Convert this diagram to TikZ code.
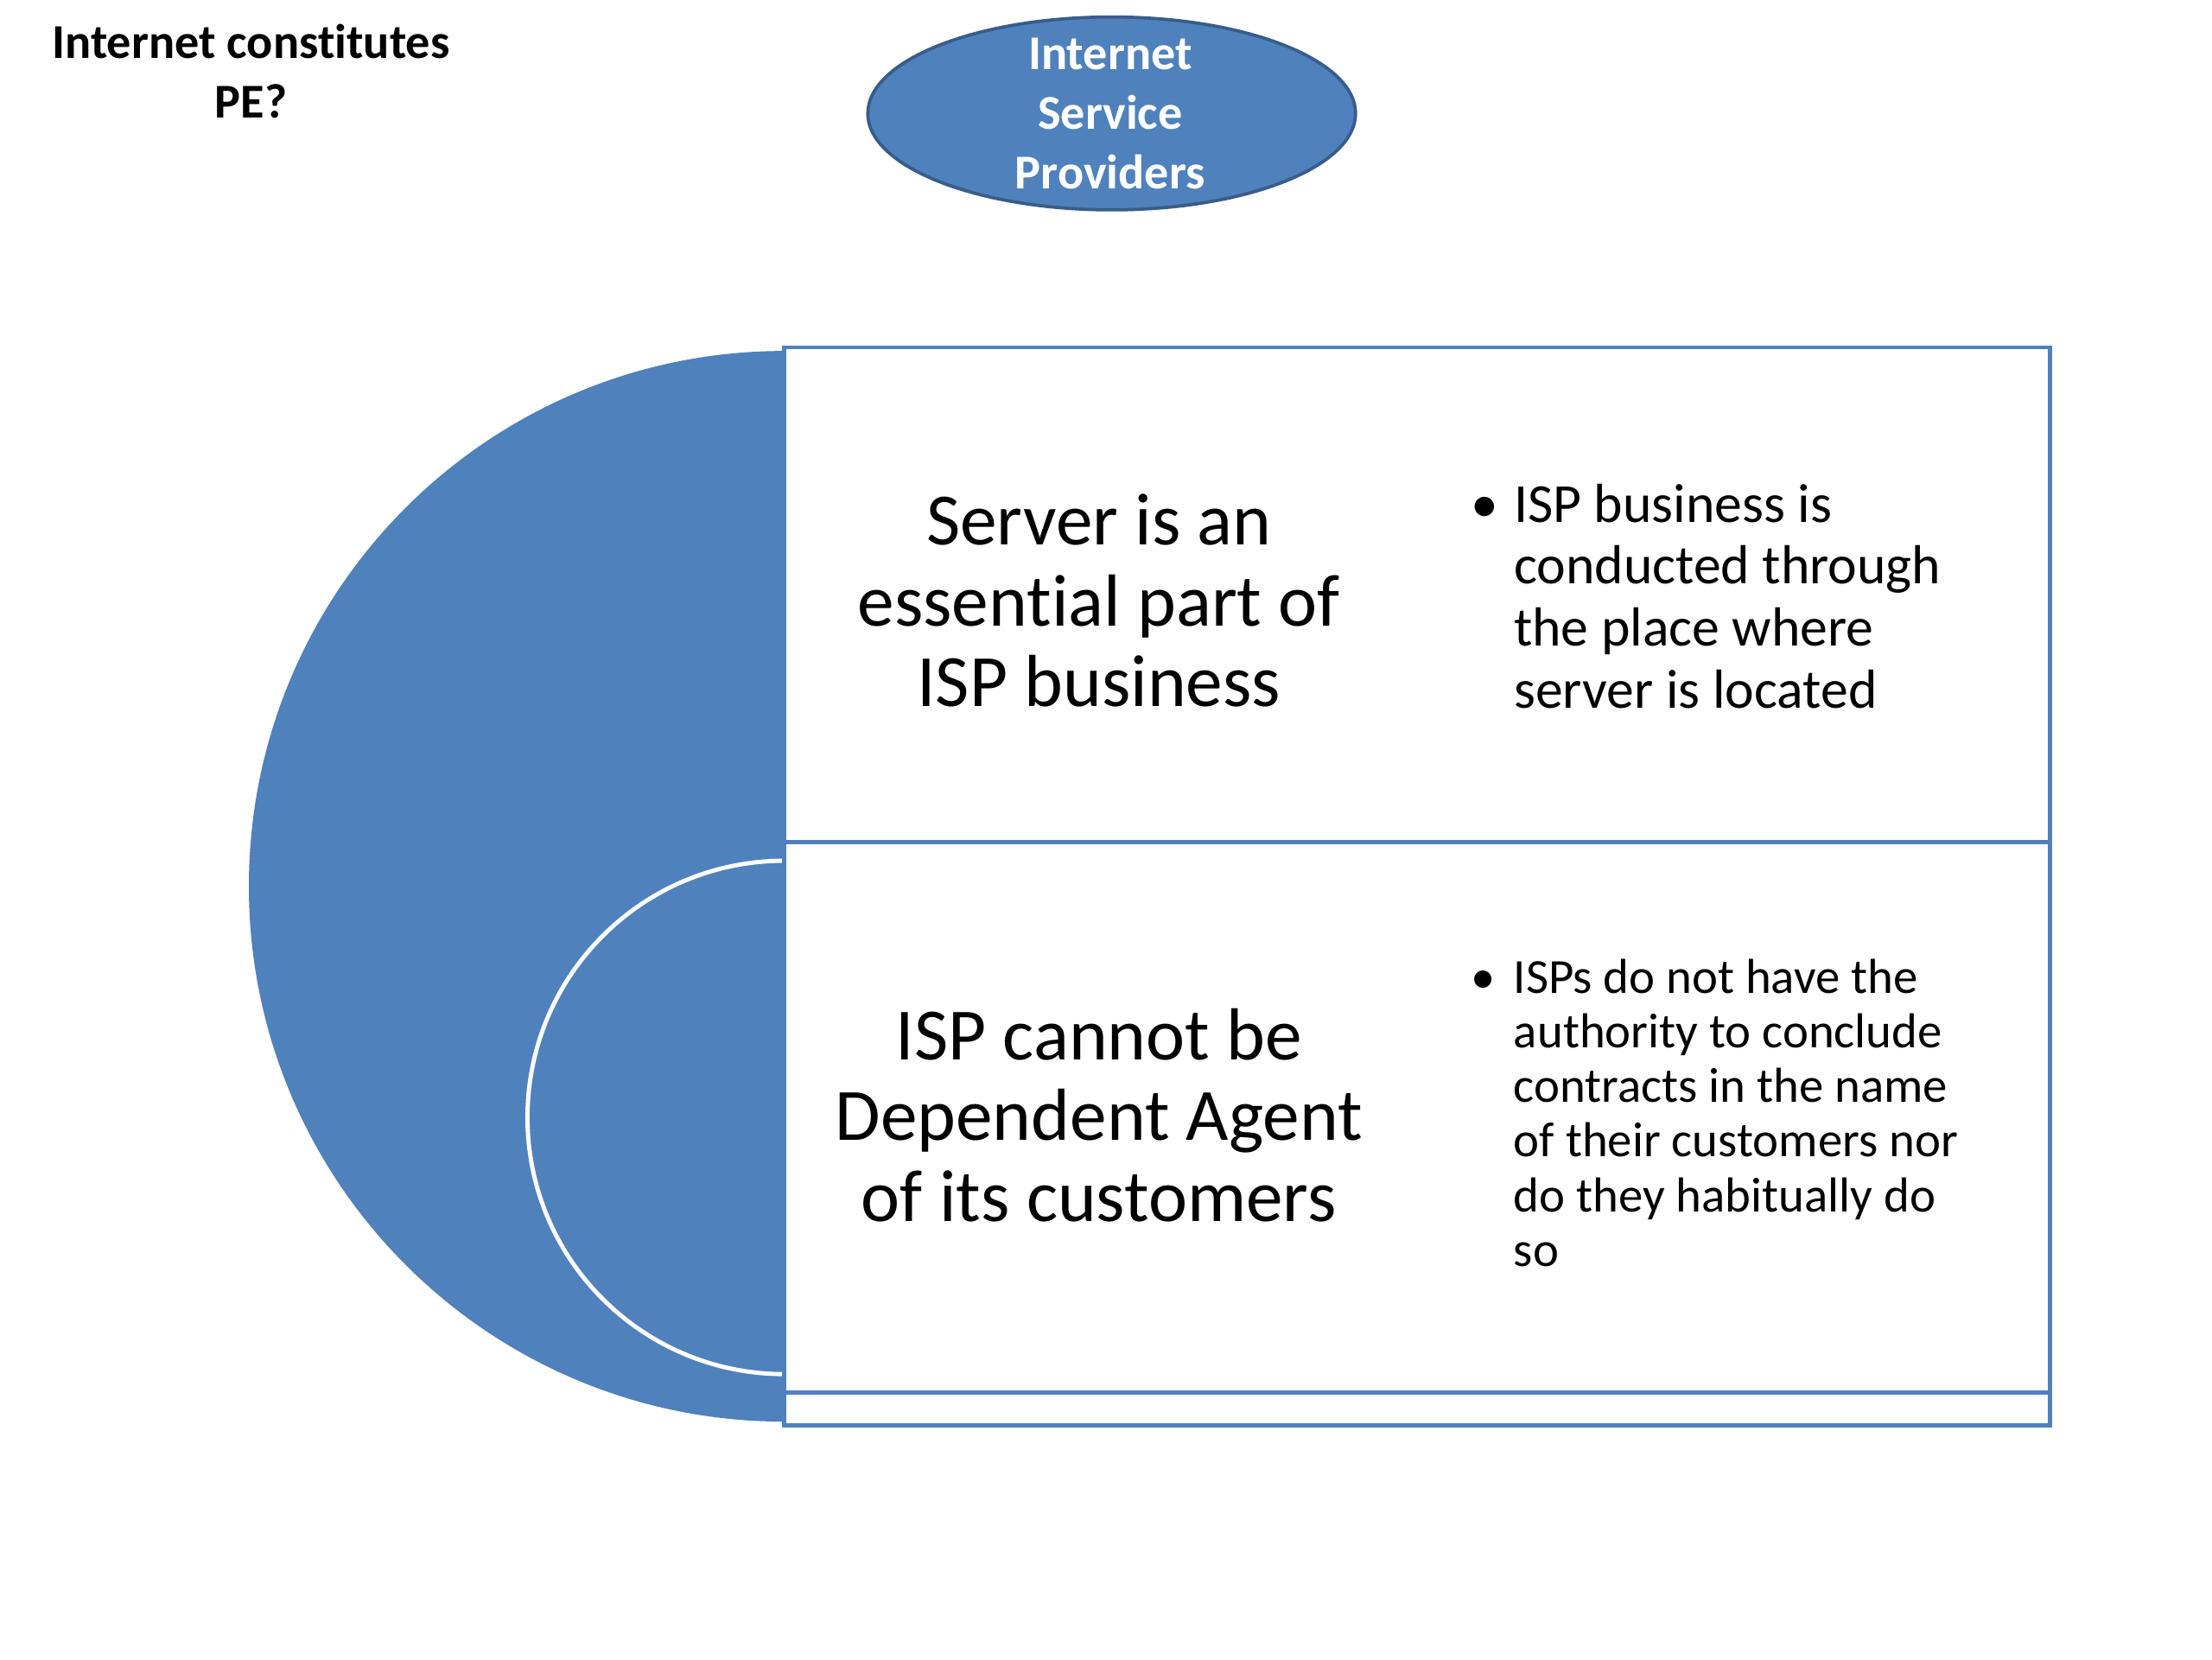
\documentclass[tikz,border=0pt]{standalone}
\usepackage{fontspec}
\setmainfont{Carlito}[Ligatures={NoCommon}]
\usetikzlibrary{positioning}
\definecolor{ispblue}{HTML}{4F81BD}
\definecolor{ispedge}{HTML}{385D8A}

\begin{document}
\begin{tikzpicture}[
    headtext/.style={align=center, font=\fontsize{19.5}{23.9}\selectfont\bfseries},
    boxline/.style={draw=ispblue, line width=1.7pt, fill=white},
    maintext/.style={align=center, font=\fontsize{29.6}{32.4}\selectfont},
    notetext/.style={anchor=west, inner sep=0pt}
]
    \useasboundingbox (0,0) rectangle (31.2,23.4);
    \fill[white] (0,0) rectangle (31.2,23.4);

    \node[headtext] (peq) at (3.54,22.4) {Internet constitutes\\PE?};
    \filldraw[fill=ispblue, draw=ispedge, line width=1.3pt] (15.68,21.8) ellipse (3.44 and 1.36);
    \node[headtext, text=white] (isp) at (15.66,21.8) {Internet\\Service\\Providers};

    \fill[ispblue] (11.06,18.45) arc (90:270:7.55) -- cycle;
    \draw[white, line width=1.7pt] (11.06,11.26) arc (90:270:3.62);

    \draw[boxline] (11.06,3.3) rectangle (28.92,18.5);
    \draw[boxline] (11.06,3.76) rectangle (28.92,11.52);
    \draw[boxline] (11.06,11.52) rectangle (28.92,18.5);

    \node[maintext] (server) at (15.5,14.93) {Server is an\\essential part of\\ISP business};
    \node[maintext] (agent) at (15.5,7.67) {ISP cannot be\\Dependent Agent\\of its customers};

    \node[notetext, font=\fontsize{22.1}{24.8}\selectfont] (servernote) at (20.74,14.9)
        {\begin{tabular}{@{}l@{\hspace{0.22cm}}l@{}}
            \textbullet & ISP business is\\
                        & conducted through\\
                        & the place where\\
                        & server is located
        \end{tabular}};
    \node[notetext, font=\fontsize{19.7}{21.9}\selectfont] (agentnote) at (20.74,7.62)
        {\begin{tabular}{@{}l@{\hspace{0.26cm}}l@{}}
            \textbullet & ISPs do not have the\\
                        & authority to conclude\\
                        & contracts in the name\\
                        & of their customers nor\\
                        & do they habitually do\\
                        & so
        \end{tabular}};
\end{tikzpicture}
\end{document}
